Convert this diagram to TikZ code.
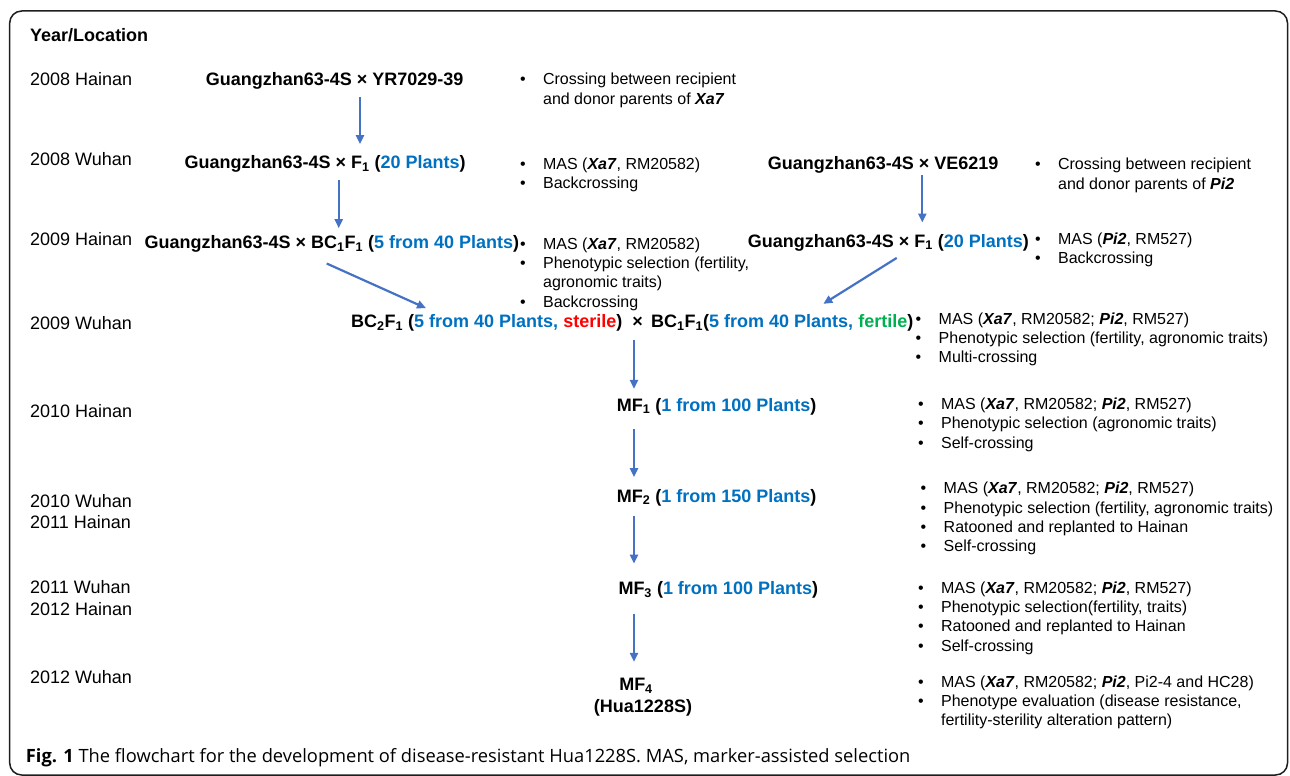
\documentclass[tikz,border=0pt]{standalone}
\usepackage{fontspec}
\setmainfont{Liberation Sans}
\newfontfamily\capfont{Open Sans}
\usepackage{xcolor}
\definecolor{flowblue}{RGB}{68,114,196}
\definecolor{plantblue}{RGB}{0,112,192}
\definecolor{sterred}{RGB}{255,0,0}
\definecolor{fertgreen}{RGB}{0,176,80}
\definecolor{framegray}{RGB}{30,30,30}
\usetikzlibrary{arrows.meta}
\newcommand{\pl}[1]{\textcolor{plantblue}{#1}}
\newcommand{\gene}[1]{\textbf{\textit{#1}}}
\newcommand{\itm}{\makebox[23pt][l]{\textbullet}}
\newcommand{\cnt}{\hspace*{23pt}}

\begin{document}
\begin{tikzpicture}[x=1pt, y=-1pt,
  yearlbl/.style={anchor=base west, inner sep=0pt,
    font=\fontsize{18}{21.6}\selectfont, align=left},
  crossnode/.style={anchor=base west, inner sep=0pt,
    font=\fontsize{18}{21.6}\selectfont\bfseries},
  notelist/.style={anchor=base west, inner sep=0pt,
    font=\fontsize{16}{19.4}\selectfont, align=left},
  conn/.style={-{Triangle[length=9pt,width=8pt]}, line width=2.2pt, draw=flowblue}
]
\useasboundingbox (0,0) rectangle (1290,776);
\draw[framegray, line width=1.5pt, rounded corners=12pt] (9.7,11) rectangle (1287.5,775);

% year / location column (multi-line nodes sit on their last baseline)
\node[yearlbl, font=\fontsize{18}{21.6}\selectfont\bfseries] (yl) at (30,41.4) {Year/Location};
\node[yearlbl] (y1) at (30,85.7)  {2008 Hainan};
\node[yearlbl] (y2) at (30,165.7) {2008 Wuhan};
\node[yearlbl] (y3) at (30,245.7) {2009 Hainan};
\node[yearlbl] (y4) at (30,329.7) {2009 Wuhan};
\node[yearlbl] (y5) at (30,417.1) {2010 Hainan};
\node[yearlbl] (y6) at (30,528.7) {2010 Wuhan\\2011 Hainan};
\node[yearlbl] (y7) at (30,615.0) {2011 Wuhan\\2012 Hainan};
\node[yearlbl] (y8) at (30,683.7) {2012 Wuhan};

% crosses
\node[crossnode] (g1)  at (205.7,85.7)  {Guangzhan63-4S × YR7029-39};
\node[crossnode] (g2)  at (184.3,168.7) {Guangzhan63-4S × F\textsubscript{1} (\pl{20 Plants})};
\node[crossnode] (g3)  at (144.3,248.7) {Guangzhan63-4S × BC\textsubscript{1}F\textsubscript{1} (\pl{5 from 40 Plants})};
\node[crossnode] (v1)  at (767.7,169.7) {Guangzhan63-4S × VE6219};
\node[crossnode] (v2)  at (747.7,247.1) {Guangzhan63-4S × F\textsubscript{1} (\pl{20 Plants})};
\node[crossnode] (bc2) at (351,327.4)   {BC\textsubscript{2}F\textsubscript{1} (\pl{5 from 40 Plants,} \textcolor{sterred}{sterile})~~×};
\node[crossnode] (bc1) at (651,327.4)   {BC\textsubscript{1}F\textsubscript{1}(\pl{5 from 40 Plants,} \textcolor{fertgreen}{fertile})};
\node[crossnode] (mf1) at (616.7,411.1) {MF\textsubscript{1} (\pl{1 from 100 Plants})};
\node[crossnode] (mf2) at (616.7,502.1) {MF\textsubscript{2} (\pl{1 from 150 Plants})};
\node[crossnode] (mf3) at (618.3,594.4) {MF\textsubscript{3} (\pl{1 from 100 Plants})};
\node[crossnode, anchor=base, align=center] (mf4) at (643,712.0) {MF\textsubscript{4}\hspace*{14pt}\\(Hua1228S)};

% notes
\node[notelist] (n1) at (519.9,104.1) {\itm Crossing between recipient\\\cnt and donor parents of \gene{Xa7}};
\node[notelist] (n2) at (519.9,188.4) {\itm MAS (\gene{Xa7}, RM20582)\\\itm Backcrossing};
\node[notelist] (n3) at (519.9,307.2) {\itm MAS (\gene{Xa7}, RM20582)\\\itm Phenotypic selection (fertility,\\\cnt agronomic traits)\\\itm Backcrossing};
\node[notelist] (n4) at (1034.9,189.1) {\itm Crossing between recipient\\\cnt and donor parents of \gene{Pi2}};
\node[notelist] (n5) at (1034.9,263.4) {\itm MAS (\gene{Pi2}, RM527)\\\itm Backcrossing};
\node[notelist] (n6) at (915.5,362.8) {\itm MAS (\gene{Xa7}, RM20582; \gene{Pi2}, RM527)\\\itm Phenotypic selection (fertility, agronomic traits)\\\itm Multi-crossing};
\node[notelist] (n7) at (917.9,448.2) {\itm MAS (\gene{Xa7}, RM20582; \gene{Pi2}, RM527)\\\itm Phenotypic selection (agronomic traits)\\\itm Self-crossing};
\node[notelist] (n8) at (920.5,551.9) {\itm MAS (\gene{Xa7}, RM20582; \gene{Pi2}, RM527)\\\itm Phenotypic selection (fertility, agronomic traits)\\\itm Ratooned and replanted to Hainan\\\itm Self-crossing};
\node[notelist] (n9) at (917.9,651.2) {\itm MAS (\gene{Xa7}, RM20582; \gene{Pi2}, RM527)\\\itm Phenotypic selection(fertility, traits)\\\itm Ratooned and replanted to Hainan\\\itm Self-crossing};
\node[notelist] (n10) at (917.9,725.8) {\itm MAS (\gene{Xa7}, RM20582; \gene{Pi2}, Pi2-4 and HC28)\\\itm Phenotype evaluation (disease resistance,\\\cnt fertility-sterility alteration pattern)};

% arrows
\draw[conn] ([shift={(154.3,7.2)}]g1.south west) -- ([shift={(175.7,-11.3)}]g2.north west);
\draw[conn] ([shift={(154.4,7.5)}]g2.south west) -- ([shift={(194.4,-7.3)}]g3.north west);
\draw[conn] ([shift={(182.4,10.8)}]g3.south west) -- ([shift={(75,-6)}]bc2.north west);
\draw[conn] ([shift={(154.6,1.5)}]v1.south west) -- ([shift={(174.6,-11.3)}]v2.north west);
\draw[conn] ([shift={(149,6.8)}]v2.south west) -- ([shift={(172.3,-10.3)}]bc1.north west);
\draw[conn] ([shift={(283,8.8)}]bc2.south west) -- ([shift={(17.3,-9)}]mf1.north west);
\draw[conn] ([shift={(17.3,14.1)}]mf1.south west) -- ([shift={(17.3,-11.7)}]mf2.north west);
\draw[conn] ([shift={(17.3,9.8)}]mf2.south west) -- ([shift={(15.7,-17.6)}]mf3.north west);
\draw[conn] ([shift={(15.7,15.5)}]mf3.south west) -- ([shift={(-9,-16)}]mf4.north);

% caption
\node[anchor=base west, inner sep=0pt, font=\capfont\fontsize{18.3}{21}\selectfont] (cap) at (25.7,762)
  {\textbf{Fig. 1} The flowchart for the development of disease-resistant Hua1228S. MAS, marker-assisted selection};
\end{tikzpicture}
\end{document}
